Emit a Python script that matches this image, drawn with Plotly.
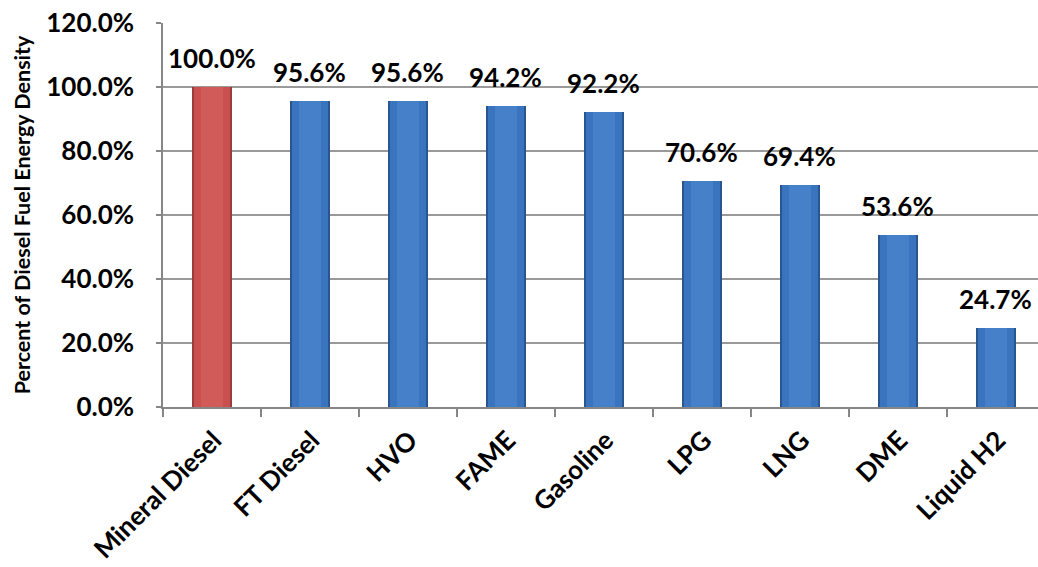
import plotly.graph_objects as go

# Energy density of each fuel relative to mineral diesel (%)
fuels = ["Mineral Diesel", "FT Diesel", "HVO", "FAME", "Gasoline",
         "LPG", "LNG", "DME", "Liquid H2"]
density_pct = [100.0, 95.6, 95.6, 94.2, 92.2, 70.6, 69.4, 53.6, 24.7]
y_ticks = [0, 20, 40, 60, 80, 100, 120]

edge_cols = ["#9C3C3A"] + ["#2A5690"] * 8
body_cols = ["#C9504E"] + ["#3B74BE"] * 8
core_cols = ["#D15B58"] + ["#4680C9"] * 8

FONT = "Lato, 'Open Sans', Arial, sans-serif"

fig = go.Figure()
# darker outer shell of each bar
fig.add_trace(go.Bar(x=fuels, y=density_pct, width=0.41,
                     marker=dict(color=edge_cols, line=dict(width=0)),
                     hoverinfo="skip", showlegend=False))
# main body
fig.add_trace(go.Bar(x=fuels, y=density_pct, width=0.36,
                     marker=dict(color=body_cols, line=dict(width=0)),
                     showlegend=False))
# lighter centre strip
fig.add_trace(go.Bar(x=fuels, y=density_pct, width=0.22,
                     marker=dict(color=core_cols, line=dict(width=0)),
                     hoverinfo="skip", showlegend=False))

for f, v in zip(fuels, density_pct):
    fig.add_annotation(x=f, y=v, text=f"<b>{v:.1f}%</b>", showarrow=False,
                       yanchor="bottom", yshift=11,
                       font=dict(family=FONT, size=26, color="#000000"))

fig.update_layout(
    width=1038, height=567,
    margin=dict(l=163, r=0, t=23, b=160),
    paper_bgcolor="white", plot_bgcolor="white",
    barmode="overlay", bargap=0,
    font=dict(family=FONT, size=18, color="#000000"),
)
fig.update_xaxes(
    type="category", range=[-0.5, 8.43], automargin=False,
    tickangle=-45, tickson="boundaries", ticks="outside", ticklen=8,
    tickcolor="#868686", tickwidth=1.5,
    ticklabelshift=2, ticklabelstandoff=6,
    showline=True, linecolor="#868686", linewidth=1.5,
    showgrid=False,
    tickfont=dict(family=FONT, size=26, color="#000000", weight="bold"),
)
fig.update_yaxes(
    range=[0, 120], tickvals=y_ticks, automargin=False,
    ticktext=[f"{t:.1f}%" for t in y_ticks],
    ticks="outside", ticklen=5, tickcolor="#868686", tickwidth=1.5,
    ticklabelstandoff=17,
    showline=True, linecolor="#868686", linewidth=1.5,
    showgrid=True, gridcolor="#9A9A9A", gridwidth=1.5,
    zeroline=False,
    tickfont=dict(family=FONT, size=26, color="#000000", weight="bold"),
    title=dict(text="<b>Percent of Diesel Fuel Energy Density</b>",
               font=dict(family=FONT, size=21.5, color="#000000"), standoff=10),
)

fig.write_html("out.html")
